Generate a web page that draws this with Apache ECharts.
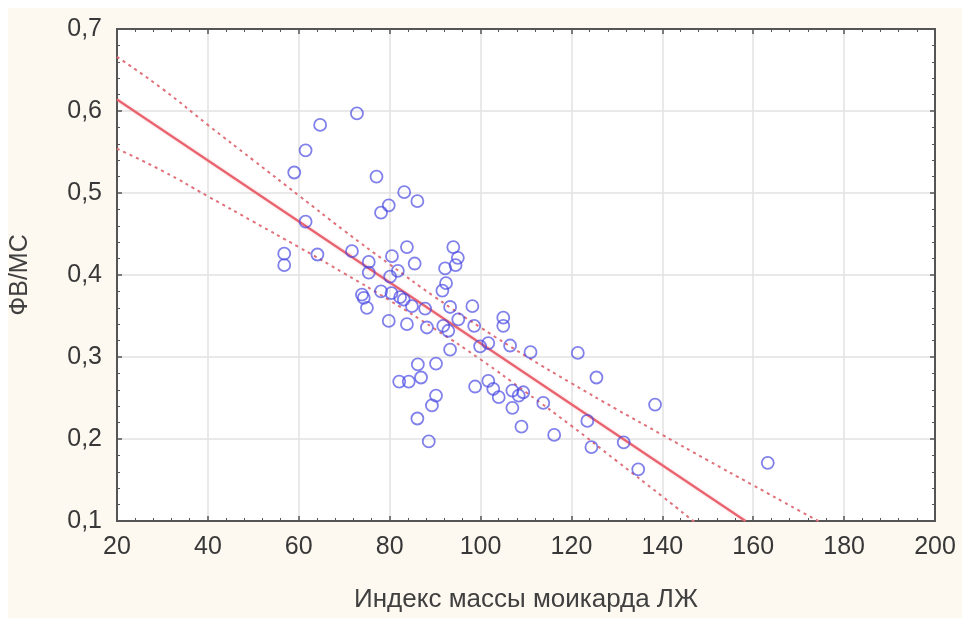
<!DOCTYPE html>
<html>
<head>
<meta charset="utf-8">
<script src="https://cdn.jsdelivr.net/npm/echarts@6/dist/echarts.min.js"></script>
<style>
  html, body { margin: 0; padding: 0; background: #ffffff; }
  #chart { width: 962px; height: 618px; }
</style>
</head>
<body>
<div id="chart"></div>
<script>
// Индекс массы миокарда ЛЖ (x) и ФВ/МС (y)
const massIndex = [
  72.8, 64.7, 61.5, 59.0, 77.1, 83.2, 86.1, 79.8, 78.1, 61.5,
  56.8, 56.8, 64.1, 71.7, 75.4, 75.4, 80.5, 83.8, 85.5, 81.8,
  80.1, 73.9, 74.3, 75.0, 78.1, 80.4, 82.3, 83.1, 84.9, 87.8,
  79.8, 83.8, 88.2, 94.0, 95.0, 94.5, 92.2, 92.4, 91.6, 93.3,
  98.2, 105.0, 105.0, 91.8, 92.9, 95.1, 98.6, 93.3, 99.9, 101.7,
  106.5, 111.0, 121.4, 125.5, 86.2, 90.2, 82.1, 84.2, 86.9, 90.2,
  89.3, 86.1, 88.6, 98.8, 101.7, 102.8, 104.0, 107.0, 107.0, 108.4,
  109.4, 109.0, 113.8, 116.2, 123.5, 124.4, 131.5, 134.7, 138.4, 163.2
];
const efRatio = [
  0.597, 0.583, 0.552, 0.525, 0.520, 0.501, 0.490, 0.485, 0.476, 0.465,
  0.426, 0.412, 0.425, 0.429, 0.416, 0.403, 0.423, 0.434, 0.414, 0.405,
  0.398, 0.376, 0.372, 0.360, 0.380, 0.378, 0.373, 0.370, 0.362, 0.359,
  0.344, 0.340, 0.336, 0.434, 0.421, 0.412, 0.408, 0.390, 0.381, 0.361,
  0.362, 0.348, 0.338, 0.338, 0.332, 0.346, 0.338, 0.309, 0.313, 0.317,
  0.314, 0.306, 0.305, 0.275, 0.291, 0.292, 0.270, 0.270, 0.275, 0.253,
  0.241, 0.225, 0.197, 0.264, 0.271, 0.261, 0.251, 0.259, 0.238, 0.253,
  0.257, 0.215, 0.244, 0.205, 0.222, 0.190, 0.196, 0.163, 0.242, 0.171
];

// Regression line end points
const fitX = [20, 158.3];
const fitY = [0.614, 0.1];

// 95% confidence band
const bandX     = [20,    30,    40,    50,    60,    70,    80,    90,    100,   110,   120,   130,   140,   150,   160,    170,   180];
const bandUpper = [0.666, 0.627, 0.583, 0.540, 0.497, 0.454, 0.413, 0.373, 0.336, 0.301, 0.268, 0.236, 0.205, 0.174, 0.1435, 0.113, 0.083];
const bandLower = [0.554, 0.527, 0.496, 0.465, 0.434, 0.402, 0.369, 0.334, 0.297, 0.257, 0.216, 0.173, 0.130, 0.087, 0.050,  0.012, -0.026];

const xTicks = { min: 20, max: 200, interval: 20 };
const yTicks = { min: 0.1, max: 0.7, interval: 0.1 };

const zip = (a, b) => a.map((v, i) => [v, b[i]]);

const axisColor = '#555555';
const labelFont = 'Liberation Sans, Arial, sans-serif';

function baseAxis(extra) {
  return Object.assign({
    type: 'value',
    axisLine: { show: true, onZero: false, lineStyle: { color: axisColor, width: 2 } },
    axisTick: { show: true, inside: true, length: 5, lineStyle: { color: axisColor, width: 1.5 } },
    minorTick: { show: true, splitNumber: 5, length: 3, lineStyle: { color: axisColor, width: 1 } },
    splitLine: { show: false },
    minorSplitLine: { show: false }
  }, extra);
}

const chart = echarts.init(document.getElementById('chart'), null, { renderer: 'canvas' });

chart.setOption({
  backgroundColor: '#ffffff',
  animation: false,
  graphic: [{
    type: 'rect', z: -10, silent: true,
    shape: { x: 8, y: 8, width: 954, height: 610 },
    style: { fill: '#fdf9f0' }
  }],
  grid: {
    left: 114, right: 27, top: 29, bottom: 96,
    show: true, backgroundColor: '#ffffff',
    borderColor: axisColor, borderWidth: 2
  },
  xAxis: [
    baseAxis({
      position: 'bottom',
      min: xTicks.min, max: xTicks.max, interval: xTicks.interval,
      name: 'Индекс массы моикарда ЛЖ',
      nameLocation: 'middle', nameGap: 66,
      nameTextStyle: { fontFamily: labelFont, fontSize: 26, color: '#404040' },
      axisLabel: { margin: 14, fontFamily: labelFont, fontSize: 25, color: '#383838' },
      splitLine: { show: true, lineStyle: { color: '#e2e2e2', width: 1.5 } }
    }),
    baseAxis({
      position: 'top',
      min: xTicks.min, max: xTicks.max, interval: xTicks.interval,
      axisLabel: { show: false }
    })
  ],
  yAxis: [
    baseAxis({
      position: 'left',
      min: yTicks.min, max: yTicks.max, interval: yTicks.interval,
      name: 'ФВ/МС',
      nameLocation: 'middle', nameGap: 84, nameRotate: 90,
      nameTextStyle: { fontFamily: labelFont, fontSize: 25, color: '#404040' },
      axisLabel: {
        margin: 15, fontFamily: labelFont, fontSize: 25, color: '#383838',
        formatter: v => v.toFixed(1).replace('.', ',')
      },
      splitLine: { show: true, lineStyle: { color: '#e2e2e2', width: 1.5 } }
    }),
    baseAxis({
      position: 'right',
      min: yTicks.min, max: yTicks.max, interval: yTicks.interval,
      axisLabel: { show: false }
    })
  ],
  series: [
    {
      type: 'line', name: 'upper', xAxisIndex: 0, yAxisIndex: 0,
      data: zip(bandX, bandUpper), smooth: true, symbol: 'none', clip: true,
      lineStyle: { color: '#e0707a', width: 2, type: [3, 4] }, z: 3
    },
    {
      type: 'line', name: 'lower', xAxisIndex: 0, yAxisIndex: 0,
      data: zip(bandX, bandLower), smooth: true, symbol: 'none', clip: true,
      lineStyle: { color: '#e0707a', width: 2, type: [3, 4] }, z: 3
    },
    {
      type: 'line', name: 'fit', xAxisIndex: 0, yAxisIndex: 0,
      data: zip(fitX, fitY), symbol: 'none', clip: true,
      lineStyle: { color: '#e9636f', width: 2.2, shadowColor: 'rgba(240,120,130,0.35)', shadowBlur: 3 }, z: 4
    },
    {
      type: 'scatter', name: 'points', xAxisIndex: 0, yAxisIndex: 0,
      data: zip(massIndex, efRatio),
      symbol: 'circle', symbolSize: 12,
      itemStyle: { color: 'rgba(0,0,0,0)', borderColor: 'rgba(70,70,226,0.85)', borderWidth: 1.8 },
      z: 5
    }
  ]
});
</script>
</body>
</html>
